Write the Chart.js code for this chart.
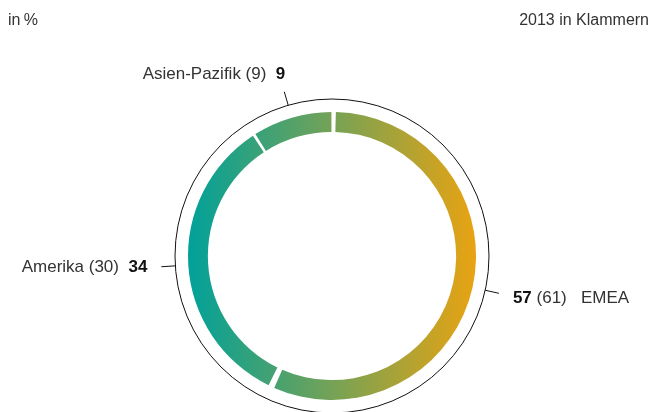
<!DOCTYPE html>
<html>
<head>
<meta charset="utf-8">
<script src="https://cdn.jsdelivr.net/npm/chart.js@4/dist/chart.umd.min.js"></script>
<style>
  html, body { margin: 0; padding: 0; background: #fff; }
  #wrap { position: relative; width: 654px; height: 412px; }
  .note { position: absolute; top: 11px; font: 16px "Liberation Sans", Arial, sans-serif; color: #333; }
</style>
</head>
<body>
<div id="wrap">
  <canvas id="regionChart" width="654" height="412"></canvas>
  <div class="note" style="left:8px">in&#8201;%</div>
  <div class="note" style="right:5px">2013 in Klammern</div>
</div>
<script>
// Umsatz nach Regionen, 2014 (2013 in Klammern)
const regions = ["EMEA", "Amerika", "Asien-Pazifik"];
const shares = [57, 34, 9];
const sharesPrev = [61, 30, 9];

const TEAL = "#00a19a";
const ORANGE = "#e9a312";
const FONT = '"Liberation Sans", Arial, sans-serif';

// thin outer ring + leader ticks + labels
const labelPlugin = {
  id: "ringLabels",
  afterDraw(chart) {
    const ctx = chart.ctx;
    const arcs = chart.getDatasetMeta(0).data;
    const cx = arcs[0].x, cy = arcs[0].y;
    const ringR = arcs[0].outerRadius + 15;

    ctx.save();
    ctx.strokeStyle = "#111";
    ctx.lineWidth = 1;
    ctx.beginPath();
    ctx.arc(cx, cy, ringR, 0, Math.PI * 2);
    ctx.stroke();

    arcs.forEach((arc, i) => {
      const mid = (arc.startAngle + arc.endAngle) / 2;
      const cos = Math.cos(mid), sin = Math.sin(mid);
      const x1 = cx + cos * ringR, y1 = cy + sin * ringR;
      const x2 = cx + cos * (ringR + 14), y2 = cy + sin * (ringR + 14);
      ctx.beginPath();
      ctx.moveTo(x1, y1);
      ctx.lineTo(x2, y2);
      ctx.stroke();

      const num = String(shares[i]);
      const prev = "(" + sharesPrev[i] + ")";
      ctx.textBaseline = "alphabetic";
      if (cos > 0.3) {
        // right side: bold value first
        let x = x2 + 14, y = y2 + 10;
        ctx.font = "bold 17px " + FONT;
        ctx.fillStyle = "#111";
        ctx.textAlign = "left";
        ctx.fillText(num, x, y);
        x += ctx.measureText(num + " ").width;
        ctx.font = "17px " + FONT;
        ctx.fillStyle = "#333";
        ctx.fillText(prev + "   " + regions[i], x, y);
      } else {
        let x, y;
        if (cos < -0.9) { x = x2 - 14; y = y2 + 5; }
        else { x = x2 + 1; y = y2 - 13; }
        ctx.textAlign = "right";
        ctx.font = "bold 17px " + FONT;
        ctx.fillStyle = "#111";
        ctx.fillText(num, x, y);
        x -= ctx.measureText(num).width;
        ctx.font = "17px " + FONT;
        ctx.fillStyle = "#333";
        ctx.fillText(regions[i] + " " + prev + "  ", x, y);
      }
    });
    ctx.restore();
  }
};

const ringChart = new Chart(document.getElementById("regionChart"), {
  type: "doughnut",
  data: {
    labels: regions,
    datasets: [{
      data: shares,
      backgroundColor: (c) => {
        const area = c.chart.chartArea;
        if (!area) return TEAL;
        const g = c.chart.ctx.createLinearGradient(area.left, 0, area.right, 0);
        g.addColorStop(0, TEAL);
        g.addColorStop(1, ORANGE);
        return g;
      },
      borderWidth: 0,
      spacing: 4
    }]
  },
  options: {
    responsive: false,
    animation: false,
    cutout: "86%",
    layout: { padding: { left: 188, right: 178, top: 112, bottom: 12 } },
    plugins: {
      legend: { display: false },
      tooltip: { enabled: false }
    }
  },
  plugins: [labelPlugin]
});
</script>
</body>
</html>
